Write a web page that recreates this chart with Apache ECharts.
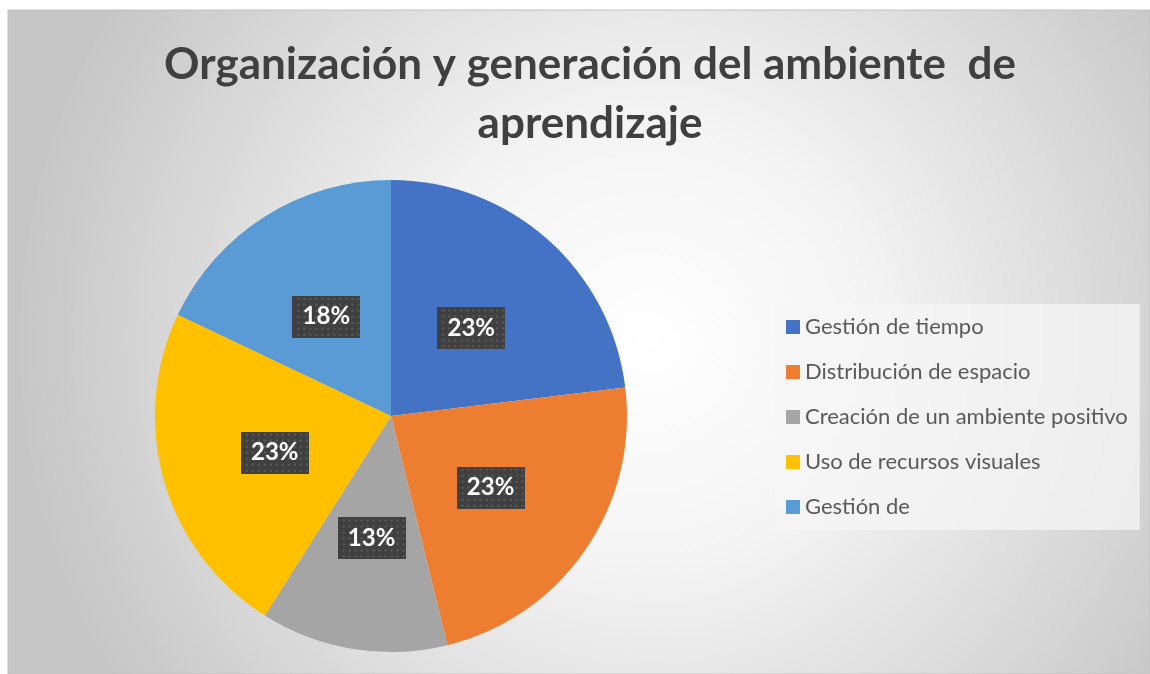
<!DOCTYPE html>
<html lang="es">
  <head>
    <meta charset="UTF-8" />
    <title>Organización y generación del ambiente de aprendizaje</title>
    <script src="https://cdn.jsdelivr.net/npm/echarts@6/dist/echarts.min.js"></script>
    <style>
      html, body { margin: 0; padding: 0; background: #fff; }
    </style>
  </head>
  <body>
    <div id="main" style="width: 1150px; height: 674px"></div>
    <script type="text/javascript">
      // data (labels show rounded percents)
      const categories = [
        "Gestión de tiempo",
        "Distribución de espacio",
        "Creación de un ambiente positivo",
        "Uso de recursos visuales",
        "Gestión de",
      ];
      const values = [9, 9, 5, 9, 7];
      const colors = ["#4472C4", "#ED7D31", "#A5A5A5", "#FFC000", "#5B9BD5"];

      // dotted dark box behind the percent labels
      function makeDots(w, h) {
        const c = document.createElement("canvas");
        c.width = w;
        c.height = h;
        const ctx = c.getContext("2d");
        ctx.fillStyle = "#404040";
        ctx.fillRect(0, 0, w, h);
        ctx.fillStyle = "#5c5c5c";
        for (let y = 2; y < h; y += 6) {
          for (let x = (y / 6) % 2 ? 5 : 2; x < w; x += 6) {
            ctx.fillRect(x, y, 2, 2);
          }
        }
        return c;
      }
      const dots = makeDots(68, 42);

      let myChart = echarts.init(document.getElementById("main"));
      let options = {
        animation: false,
        graphic: [
          {
            type: "rect",
            z: -10,
            shape: { x: 8, y: 10, width: 1142, height: 664 },
            style: {
              fill: new echarts.graphic.RadialGradient(0.56, 0.5, 0.95, [
                { offset: 0, color: "#ffffff" },
                { offset: 0.35, color: "#f4f4f4" },
                { offset: 1, color: "#c6c6c6" },
              ]),
              stroke: "#c0c0c0",
              lineWidth: 1,
            },
          },
        ],
        title: {
          text: "Organización y generación del ambiente  de\naprendizaje",
          left: 585,
          top: 30,
          textAlign: "center",
          textStyle: {
            fontFamily: "Lato",
            fontSize: 44,
            fontWeight: "bold",
            color: "#404040",
            lineHeight: 59,
          },
        },
        legend: {
          orient: "vertical",
          left: 775,
          top: 304,
          padding: [12, 12, 12, 11],
          backgroundColor: "rgba(246,246,246,0.75)",
          itemWidth: 14,
          itemHeight: 14,
          itemGap: 23,
          icon: "rect",
          data: categories,
          textStyle: {
            fontFamily: "Lato",
            fontSize: 22,
            color: "#595959",
            lineHeight: 21,
          },
        },
        series: [
          {
            type: "pie",
            center: [391, 416],
            radius: 236,
            startAngle: 90,
            clockwise: true,
            color: colors,
            itemStyle: { borderWidth: 0 },
            label: {
              position: "inside",
              formatter: (p) => Math.round(p.percent) + "%",
              fontFamily: "Lato",
              fontSize: 24,
              fontWeight: "bold",
              color: "#ffffff",
              width: 68,
              height: 42,
              align: "center",
              verticalAlign: "middle",
              lineHeight: 42,
              backgroundColor: { image: dots },
              shadowColor: "rgba(0,0,0,0.45)",
              shadowBlur: 6,
              shadowOffsetX: 3,
              shadowOffsetY: 3,
              offset: [0, 3],
            },
            labelLine: { show: false },
            data: categories.map((name, i) => ({ name: name, value: values[i] })),
          },
        ],
      };
      myChart.setOption(options);
    </script>
  </body>
</html>
